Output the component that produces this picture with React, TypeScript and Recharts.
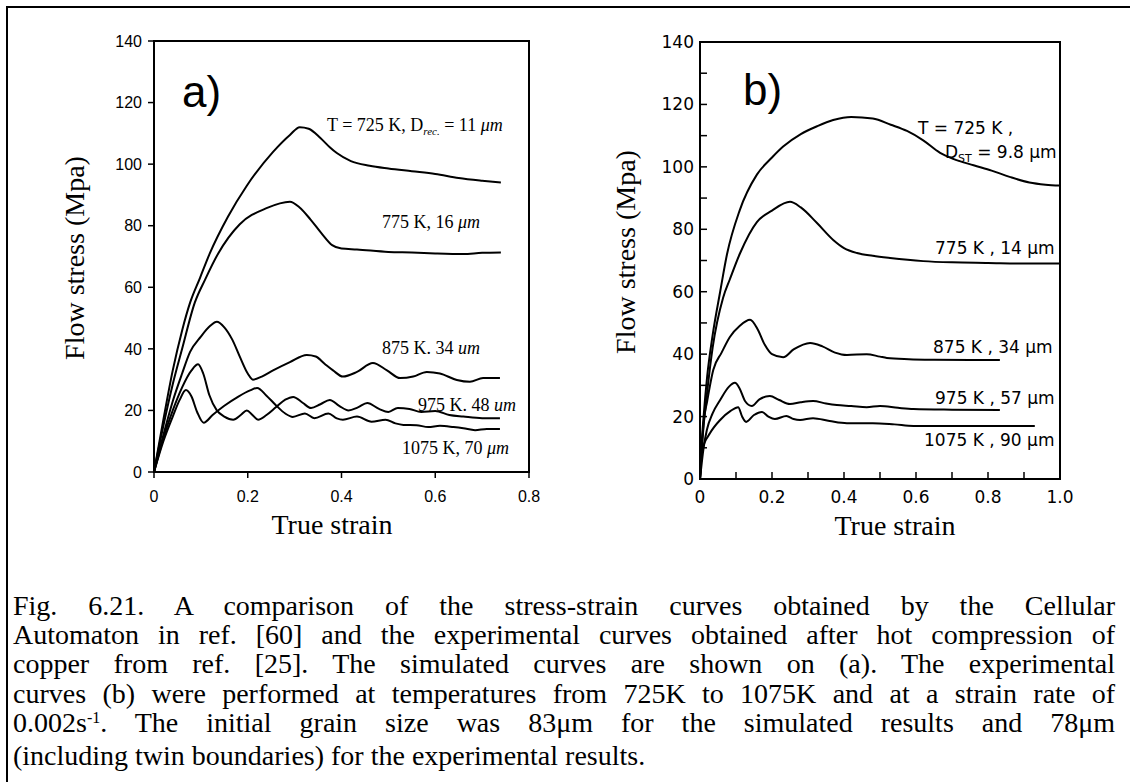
import { LineChart, Line, XAxis, YAxis, ReferenceArea } from "recharts"

// (a) simulated curves (Cellular Automaton)
const simStrain725 = [0, 0.02, 0.04, 0.06, 0.077, 0.098, 0.119, 0.158, 0.198, 0.254, 0.29, 0.311, 0.33, 0.355, 0.375, 0.39, 0.42, 0.46, 0.5, 0.55, 0.6, 0.65, 0.7, 0.74]
const simStress725 = [0, 17, 33, 46, 55, 63, 71, 83, 93, 104, 109.5, 112, 111.5, 108.5, 105.5, 103.6, 101, 99.5, 98.6, 97.7, 96.8, 95.5, 94.6, 94]

const simStrain775 = [0, 0.02, 0.04, 0.06, 0.087, 0.109, 0.137, 0.183, 0.24, 0.29, 0.31, 0.334, 0.357, 0.38, 0.4, 0.433, 0.5, 0.55, 0.6, 0.66, 0.7, 0.74]
const simStress775 = [0, 15, 28.5, 40, 55, 62.5, 71, 80.5, 85.7, 87.8, 86, 82, 77.6, 73.7, 72.6, 72.3, 71.5, 71.3, 71, 70.8, 71.2, 71.3]

const simStrain875 = [0, 0.02, 0.04, 0.06, 0.077, 0.1, 0.12, 0.134, 0.15, 0.167, 0.183, 0.2, 0.211, 0.23, 0.254, 0.29, 0.326, 0.345, 0.365, 0.382, 0.403, 0.433, 0.467, 0.497, 0.525, 0.553, 0.582, 0.61, 0.646, 0.674, 0.702, 0.738]
const simStress875 = [0, 12, 23, 32, 39, 44, 47.5, 48.8, 47, 43, 37.5, 32, 30, 31, 33, 35.7, 38, 37.5, 35, 33, 31, 32.5, 35.4, 33, 30.5, 31, 32.5, 32, 29.9, 29.3, 30.5, 30.5]

const simStrain975 = [0, 0.02, 0.04, 0.06, 0.08, 0.094, 0.105, 0.118, 0.134, 0.15, 0.169, 0.185, 0.198, 0.21, 0.222, 0.24, 0.26, 0.28, 0.297, 0.317, 0.335, 0.355, 0.375, 0.395, 0.415, 0.435, 0.455, 0.48, 0.5, 0.52, 0.545, 0.57, 0.6, 0.63, 0.66, 0.7, 0.738]
const simStress975 = [0, 11, 20, 27.5, 33, 35, 32, 25, 20, 18, 17, 18.5, 20, 18.5, 17, 18.5, 21, 23.5, 24.4, 22.5, 20.8, 22, 23.4, 21.5, 20, 21, 22.4, 20.5, 19.5, 20.8, 20.5, 19.5, 19.8, 18.5, 18, 17.5, 17.5]

const simStrain1075 = [0, 0.02, 0.04, 0.055, 0.068, 0.08, 0.092, 0.106, 0.125, 0.15, 0.18, 0.205, 0.22, 0.24, 0.258, 0.28, 0.296, 0.322, 0.342, 0.372, 0.39, 0.403, 0.433, 0.464, 0.494, 0.515, 0.532, 0.56, 0.585, 0.61, 0.639, 0.66, 0.685, 0.71, 0.738]
const simStress1075 = [0, 10, 18, 23.5, 26.6, 24.5, 19.5, 16, 18.5, 21.5, 24.5, 26.5, 27.3, 24.8, 22, 19, 17.9, 19, 17.5, 19, 17.4, 17, 18, 16.3, 17, 15.8, 15.3, 15.2, 14.6, 15, 14.6, 14.2, 13.6, 14, 14]

// (b) experimental curves
const expStrain725 = [0, 0.005, 0.01, 0.02, 0.035, 0.056, 0.075, 0.11, 0.158, 0.2, 0.231, 0.28, 0.325, 0.37, 0.42, 0.48, 0.53, 0.575, 0.62, 0.667, 0.705, 0.76, 0.81, 0.86, 0.915, 0.96, 1.0]
const expStress725 = [0, 12, 20, 33, 46, 60, 72, 86, 97.5, 103, 106.5, 110.5, 113, 115, 116, 115.5, 113.5, 111.5, 108.5, 104.5, 102.5, 100.5, 98.8, 96.8, 95, 94.3, 94]

const expStrain775 = [0, 0.005, 0.01, 0.02, 0.035, 0.064, 0.083, 0.11, 0.158, 0.2, 0.25, 0.28, 0.325, 0.37, 0.4, 0.436, 0.48, 0.528, 0.62, 0.7, 0.8, 0.9, 1.0]
const expStress775 = [0, 10, 17, 28, 42, 58, 64, 72, 82.3, 86, 88.8, 87, 82, 76.6, 74, 72.4, 71.5, 70.8, 69.8, 69.4, 69.2, 69, 69]

const expStrain875 = [0, 0.01, 0.02, 0.037, 0.06, 0.083, 0.11, 0.139, 0.16, 0.18, 0.2, 0.231, 0.26, 0.306, 0.34, 0.375, 0.408, 0.463, 0.5, 0.519, 0.58, 0.65, 0.75, 0.833]
const expStress875 = [0, 18, 25, 35, 40.5, 45.5, 49, 51, 48, 43, 40, 39, 41.5, 43.6, 42.5, 40.5, 39.7, 40, 39.2, 38.8, 38.4, 38.2, 38.1, 38.1]

const expStrain975 = [0, 0.01, 0.019, 0.035, 0.056, 0.08, 0.097, 0.11, 0.125, 0.144, 0.165, 0.194, 0.22, 0.25, 0.28, 0.314, 0.35, 0.38, 0.42, 0.463, 0.5, 0.55, 0.593, 0.7, 0.833]
const expStress975 = [0, 10, 15.7, 21, 25.3, 29.5, 30.8, 29, 25, 23.4, 25.5, 26.6, 25.3, 24, 24.6, 25, 24.2, 23.7, 23.4, 23, 23.4, 22.8, 22.4, 22.2, 22.1]

const expStrain1075 = [0, 0.006, 0.028, 0.056, 0.085, 0.106, 0.117, 0.128, 0.15, 0.172, 0.19, 0.208, 0.24, 0.26, 0.278, 0.314, 0.36, 0.408, 0.48, 0.54, 0.593, 0.7, 0.8, 0.93]
const expStress1075 = [0, 9.3, 14.7, 18.9, 21.8, 23, 20, 18.3, 20.5, 21.5, 20, 19.2, 20.2, 19.2, 18.9, 19.5, 18.6, 17.9, 17.9, 17.5, 17, 17, 17, 17]

// axis ticks
const aStrainTicks = [0, 0.2, 0.4, 0.6, 0.8]
const aStressTicks = [0, 20, 40, 60, 80, 100, 120, 140]
const bStrainTicks = [0, 0.2, 0.4, 0.6, 0.8, 1.0]
const bStrainMinor = [0, 0.1, 0.2, 0.3, 0.4, 0.5, 0.6, 0.7, 0.8, 0.9, 1.0]
const bStressTicks = [0, 20, 40, 60, 80, 100, 120, 140]
const bStressMinor = [0, 10, 20, 30, 40, 50, 60, 70, 80, 90, 100, 110, 120, 130, 140]

const simSeries = [
  { name: "725K", strain: simStrain725, stress: simStress725 },
  { name: "775K", strain: simStrain775, stress: simStress775 },
  { name: "875K", strain: simStrain875, stress: simStress875 },
  { name: "975K", strain: simStrain975, stress: simStress975 },
  { name: "1075K", strain: simStrain1075, stress: simStress1075 },
]

const expSeries = [
  { name: "725K", strain: expStrain725, stress: expStress725 },
  { name: "775K", strain: expStrain775, stress: expStress775 },
  { name: "875K", strain: expStrain875, stress: expStress875 },
  { name: "975K", strain: expStrain975, stress: expStress975 },
  { name: "1075K", strain: expStrain1075, stress: expStress1075 },
]

const toPoints = (xs: number[], ys: number[]) => xs.map((x, i) => ({ x, y: ys[i] }))

const sans = "'Liberation Sans', Arial, sans-serif"
const serif = "'Liberation Serif', 'Times New Roman', serif"
const plotFont = "'DejaVu Sans', sans-serif"

// empty tick label, so that only the inward tick marks are drawn
const NoLabel = () => <g />

function SimulatedChart() {
  return (
    <div style={{ position: "absolute", left: 0, top: 0 }}>
      <LineChart width={560} height={520} margin={{ top: 41, right: 31, bottom: 18, left: 94 }}>
        <XAxis
          type="number"
          dataKey="x"
          domain={[0, 0.8]}
          ticks={aStrainTicks}
          interval={0}
          allowDataOverflow
          height={30}
          tickSize={6}
          tickMargin={13}
          tick={{ fill: "#000", fontSize: 16, fontFamily: sans }}
          axisLine={{ stroke: "#000", strokeWidth: 2 }}
          tickLine={{ stroke: "#000", strokeWidth: 1.5 }}
        />
        <YAxis
          type="number"
          domain={[0, 140]}
          ticks={aStressTicks}
          interval={0}
          allowDataOverflow
          width={60}
          tickSize={6}
          tickMargin={6}
          tick={{ fill: "#000", fontSize: 16, fontFamily: sans }}
          axisLine={{ stroke: "#000", strokeWidth: 2 }}
          tickLine={{ stroke: "#000", strokeWidth: 1.5 }}
        />
        <ReferenceArea x1={0} x2={0.8} y1={0} y2={140} fill="#fff" fillOpacity={0} stroke="#000" strokeWidth={2} />
        {simSeries.map((s) => (
          <Line
            key={s.name}
            data={toPoints(s.strain, s.stress)}
            dataKey="y"
            type="monotone"
            stroke="#000"
            strokeWidth={2}
            dot={false}
            isAnimationActive={false}
          />
        ))}
      </LineChart>
    </div>
  )
}

function ExperimentalChart() {
  return (
    <div style={{ position: "absolute", left: 540, top: 0 }}>
      <LineChart width={560} height={520} margin={{ top: 42, right: 40, bottom: 11, left: 100 }}>
        <XAxis
          type="number"
          dataKey="x"
          domain={[0, 1]}
          ticks={bStrainTicks}
          interval={0}
          allowDataOverflow
          height={30}
          tickSize={0}
          tickMargin={12}
          tickLine={false}
          tickFormatter={(v: number) => (v === 0 ? "0" : v.toFixed(1))}
          tick={{ fill: "#000", fontSize: 17, fontFamily: plotFont }}
          axisLine={{ stroke: "#000", strokeWidth: 2 }}
        />
        <XAxis
          xAxisId="minor"
          type="number"
          dataKey="x"
          domain={[0, 1]}
          ticks={bStrainMinor}
          interval={0}
          allowDataOverflow
          mirror
          height={30}
          tickSize={7}
          tick={NoLabel}
          axisLine={false}
          tickLine={{ stroke: "#000", strokeWidth: 1.5 }}
        />
        <YAxis
          type="number"
          domain={[0, 140]}
          ticks={bStressTicks}
          interval={0}
          allowDataOverflow
          width={60}
          tickSize={0}
          tickMargin={6}
          tickLine={false}
          tick={{ fill: "#000", fontSize: 17, fontFamily: plotFont }}
          axisLine={{ stroke: "#000", strokeWidth: 2 }}
        />
        <YAxis
          yAxisId="minor"
          type="number"
          domain={[0, 140]}
          ticks={bStressMinor}
          interval={0}
          allowDataOverflow
          mirror
          width={60}
          tickSize={7}
          tick={NoLabel}
          axisLine={false}
          tickLine={{ stroke: "#000", strokeWidth: 1.5 }}
        />
        <ReferenceArea x1={0} x2={1} y1={0} y2={140} fill="#fff" fillOpacity={0} stroke="#000" strokeWidth={2} />
        {expSeries.map((s) => (
          <Line
            key={s.name}
            data={toPoints(s.strain, s.stress)}
            dataKey="y"
            type="monotone"
            stroke="#000"
            strokeWidth={2}
            dot={false}
            isAnimationActive={false}
          />
        ))}
      </LineChart>
    </div>
  )
}

function Annotations() {
  return (
    <svg width={1130} height={782} style={{ position: "absolute", left: 0, top: 0, pointerEvents: "none" }}>
      {/* axis titles */}
      <g fontFamily={serif} fontSize={28} fill="#000">
        <text transform="translate(74,258) rotate(-90)" textAnchor="middle" dominantBaseline="central">Flow stress (Mpa)</text>
        <text transform="translate(625,252) rotate(-90)" textAnchor="middle" dominantBaseline="central">Flow stress (Mpa)</text>
        <text x={332} y={524} textAnchor="middle" dominantBaseline="central">True strain</text>
        <text x={895} y={525} textAnchor="middle" dominantBaseline="central">True strain</text>
      </g>
      {/* panel letters */}
      <text x={182} y={107} fontFamily={sans} fontSize={44} fill="#000">a)</text>
      <text x={743} y={105} fontFamily={sans} fontSize={44} fill="#000">b)</text>
      {/* (a) labels */}
      <g fontFamily={serif} fontSize={18} fill="#000">
        <text x={327} y={131}>
          T = 725 K, D<tspan fontSize={11} fontStyle="italic" dy={4}>rec.</tspan>
          <tspan dy={-4}> = 11 </tspan>
          <tspan fontStyle="italic">μm</tspan>
        </text>
        <text x={382} y={228}>775 K, 16 <tspan fontStyle="italic">μm</tspan></text>
        <text x={382} y={354}>875 K. 34 <tspan fontStyle="italic">um</tspan></text>
        <text x={418} y={411}>975 K. 48 <tspan fontStyle="italic">um</tspan></text>
        <text x={402} y={454}>1075 K, 70 <tspan fontStyle="italic">μm</tspan></text>
      </g>
      {/* (b) labels */}
      <g fontFamily={plotFont} fontSize={17} fill="#000">
        <text x={918} y={134}>T = 725 K ,</text>
        <text x={945} y={158}>
          D<tspan fontSize={11} dy={4}>ST</tspan>
          <tspan dy={-4}> = 9.8 μm</tspan>
        </text>
        <text x={935} y={254}>775 K , 14 μm</text>
        <text x={933} y={353}>875 K , 34 μm</text>
        <text x={935} y={404}>975 K , 57 μm</text>
        <text x={924} y={446}>1075 K , 90 μm</text>
      </g>
    </svg>
  )
}

const captionLines = [
  "Fig. 6.21. A comparison of the stress-strain curves obtained by the Cellular",
  "Automaton in ref. [60] and the experimental curves obtained after hot compression of",
  "copper from ref. [25]. The simulated curves are shown on (a). The experimental",
  "curves (b) were performed at temperatures from 725K to 1075K and at a strain rate of",
]

function Caption() {
  const justified = { textAlign: "justify" as const, textAlignLast: "justify" as const, whiteSpace: "nowrap" as const }
  return (
    <div
      style={{
        position: "absolute",
        left: 13,
        top: 591,
        width: 1102,
        fontFamily: serif,
        fontSize: 28,
        lineHeight: "29.2px",
        color: "#000",
      }}
    >
      {captionLines.map((l) => (
        <div key={l} style={justified}>{l}</div>
      ))}
      <div style={justified}>
        0.002s<span style={{ fontSize: 16, position: "relative", top: -9 }}>-1</span>. The initial grain size was 83μm for the simulated results and 78μm
      </div>
      <div style={{ textAlign: "left" }}>(including twin boundaries) for the experimental results.</div>
    </div>
  )
}

export default function App() {
  return (
    <div style={{ position: "absolute", left: 0, top: 0, width: 1130, height: 782, background: "#fff", overflow: "hidden" }}>
      <div
        style={{
          position: "absolute",
          left: 6,
          top: 6,
          width: 1140,
          height: 800,
          borderLeft: "2px solid #000",
          borderTop: "2px solid #000",
        }}
      />
      <SimulatedChart />
      <ExperimentalChart />
      <Annotations />
      <Caption />
    </div>
  )
}
